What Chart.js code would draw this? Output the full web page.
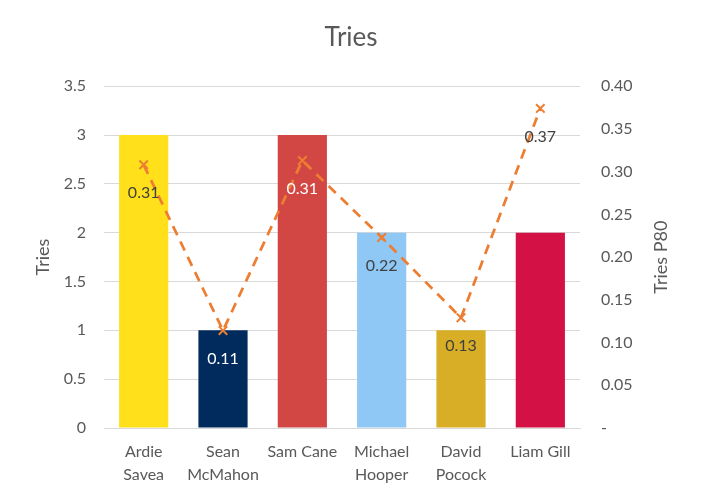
<!DOCTYPE html>
<html>
<head>
<meta charset="utf-8">
<script src="https://cdn.jsdelivr.net/npm/chart.js@4"></script>
<style>
  html, body { margin: 0; padding: 0; background: #fff; }
  #wrap { width: 702px; height: 500px; }
</style>
</head>
<body>
<div id="wrap"><canvas id="chart" width="702" height="500"></canvas></div>
<script>
//------------------------------------------- Data -------------------------------------------//
const players = [['Ardie', 'Savea'], ['Sean', 'McMahon'], 'Sam Cane', ['Michael', 'Hooper'], ['David', 'Pocock'], 'Liam Gill'];
const tries = [3, 1, 3, 2, 1, 2];
const triesP80 = [0.308, 0.114, 0.313, 0.223, 0.129, 0.374];
const barColors = ['#FFE01B', '#002B5C', '#D24744', '#90C8F5', '#D9AE27', '#D41145'];
const labelColors = ['#404040', '#ffffff', '#ffffff', '#404040', '#404040', '#404040'];

//------------------------------------------- Settings -------------------------------------------//
const fontFamily = 'Lato, "Open Sans", sans-serif';
const textColor = '#595959';
const lineColor = '#ED7D31';

// draw the P80 values under each marker
const pointLabels = {
    id: 'pointLabels',
    afterDatasetsDraw(chart) {
        const ctx = chart.ctx;
        const meta = chart.getDatasetMeta(0);
        ctx.save();
        ctx.font = '16px ' + fontFamily;
        ctx.textAlign = 'center';
        ctx.textBaseline = 'middle';
        meta.data.forEach((pt, i) => {
            ctx.fillStyle = labelColors[i];
            ctx.fillText(triesP80[i].toFixed(2), pt.x, pt.y + 28);
        });
        ctx.restore();
    }
};

// axis titles (right one reads bottom to top)
const axisTitles = {
    id: 'axisTitles',
    afterDraw(chart) {
        const ctx = chart.ctx;
        const area = chart.chartArea;
        const midY = (area.top + area.bottom) / 2;
        ctx.save();
        ctx.fillStyle = textColor;
        ctx.textAlign = 'center';
        ctx.textBaseline = 'middle';
        [[43, 'Tries'], [661, 'Tries P80']].forEach(([x, txt]) => {
            ctx.save();
            ctx.font = '18px ' + fontFamily;
            ctx.translate(x, midY);
            ctx.rotate(-Math.PI / 2);
            ctx.fillText(txt, 0, 0);
            ctx.restore();
        });
        ctx.restore();
    }
};

//------------------------------------------- Chart -------------------------------------------//
new Chart(document.getElementById('chart'), {
    data: {
        labels: players,
        datasets: [{
            type: 'line',
            label: 'Tries P80',
            data: triesP80,
            yAxisID: 'y1',
            borderColor: lineColor,
            borderWidth: 2.75,
            borderDash: [10, 7],
            pointStyle: 'crossRot',
            pointRadius: 6,
            pointBorderWidth: 2,
            pointBorderColor: lineColor,
            fill: false,
            order: 0
        }, {
            type: 'bar',
            label: 'Tries',
            data: tries,
            yAxisID: 'y',
            backgroundColor: barColors,
            barPercentage: 0.62,
            categoryPercentage: 1.0,
            order: 1
        }]
    },
    options: {
        responsive: false,
        animation: false,
        layout: { padding: 0 },
        plugins: {
            legend: { display: false },
            tooltip: { enabled: false },
            title: {
                display: true,
                text: 'Tries',
                color: textColor,
                font: { family: fontFamily, size: 26, weight: 'normal', lineHeight: 1.2 },
                padding: { top: 22, bottom: 33 }
            }
        },
        scales: {
            x: {
                grid: { display: false },
                border: { color: '#d9d9d9', width: 1 },
                ticks: {
                    color: textColor,
                    font: { family: fontFamily, size: 16, lineHeight: 1.45 },
                    maxRotation: 0,
                    autoSkip: false,
                    padding: 4
                },
                afterFit(scale) { scale.height = 72; }
            },
            y: {
                position: 'left',
                min: 0,
                max: 3.5,
                grid: { color: '#d9d9d9', drawTicks: false },
                border: { display: false },
                ticks: {
                    stepSize: 0.5,
                    color: textColor,
                    font: { family: fontFamily, size: 16 },
                    padding: 18,
                    callback: v => String(v)
                },
                afterFit(scale) { scale.width = 104; }
            },
            y1: {
                position: 'right',
                min: 0,
                max: 0.4,
                grid: { display: false, drawTicks: false },
                border: { display: false },
                ticks: {
                    stepSize: 0.05,
                    color: textColor,
                    font: { family: fontFamily, size: 16 },
                    padding: 21,
                    callback: v => v === 0 ? '-' : v.toFixed(2)
                },
                afterFit(scale) { scale.width = 122; }
            }
        }
    },
    plugins: [pointLabels, axisTitles]
});
</script>
</body>
</html>
